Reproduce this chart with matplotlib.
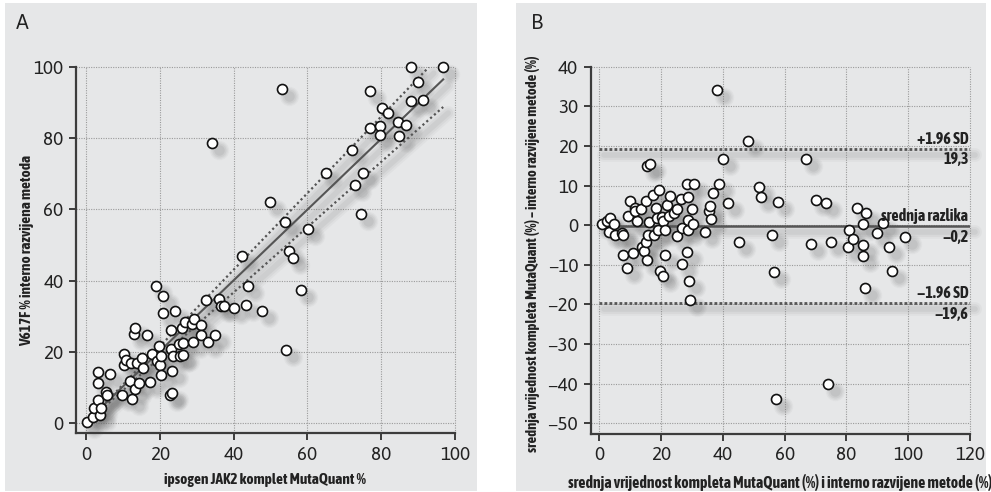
import matplotlib
matplotlib.use("Agg")
import matplotlib.pyplot as plt
from matplotlib.transforms import offset_copy
from matplotlib.patches import Rectangle
import numpy as np

# ---------------- data ----------------
# Panel A: ipsogen JAK2 MutaQuant % (x) vs in-house method % (y)
xa = [0.4, 2.0, 2.2, 3.3, 3.8, 4.0, 3.2, 3.3, 5.4, 5.8, 6.5, 9.9, 10.4, 10.4, 10.9,
      12.1, 11.9, 12.5, 13.2, 14.4, 13.0, 13.4, 13.7, 15.2, 15.5, 16.5, 17.4, 17.9,
      19.0, 19.2, 19.7, 20.0, 20.4, 20.2, 20.9, 20.8, 22.8, 23.4, 23.0, 23.0, 23.2,
      23.5, 24.1, 25.2, 25.6, 25.9, 26.2, 26.2, 26.9, 28.6, 29.0, 29.3, 31.1, 31.3,
      32.5, 33.1, 34.9, 34.1, 36.0, 36.7, 37.4, 40.2, 42.2, 43.3, 43.8, 47.6, 49.8,
      53.0, 53.8, 54.3, 55.0, 56.0, 58.2, 60.1, 65.0, 72.0, 72.8, 74.4, 75.1, 77.1,
      77.1, 79.6, 79.6, 80.3, 81.9, 84.6, 84.7, 86.8, 88.0, 88.0, 90.0, 91.3, 96.8]
ya = [0.3, 1.6, 4.2, 6.5, 2.3, 4.2, 14.3, 11.2, 8.6, 7.9, 13.8, 7.8, 16.2, 19.4, 17.8,
      16.8, 11.7, 6.8, 9.5, 11.2, 25.0, 26.6, 16.8, 18.2, 15.4, 24.6, 11.5, 19.3,
      38.6, 17.3, 21.5, 16.2, 13.4, 18.7, 35.7, 31.0, 7.9, 8.4, 20.8, 26.0, 14.7,
      18.7, 31.6, 22.2, 18.7, 26.6, 22.6, 19.0, 28.5, 27.8, 22.9, 29.3, 27.4, 24.6,
      34.6, 22.9, 24.8, 78.7, 34.8, 32.9, 32.9, 32.4, 47.0, 33.2, 38.6, 31.5, 62.1,
      93.9, 56.5, 20.6, 48.4, 46.4, 37.4, 54.4, 70.1, 76.6, 66.8, 58.6, 70.1, 93.3,
      83.0, 83.5, 80.8, 88.5, 87.1, 84.6, 80.6, 83.8, 100.0, 90.5, 95.8, 90.8, 100.0]

# regression line and band (slope, intercept, x-start, x-end)
reg_main = (0.994, 0.3, 0.2, 96.8)
reg_upper = (1.076, 0.0, 1.5, 92.9)
reg_lower = (0.917, 0.0, 2.0, 96.8)

# Panel B: Bland-Altman
xb = [0.8, 2.4, 3.5, 3.2, 4.7, 5.1, 7.2, 7.6, 7.6, 9.1, 9.4, 9.9, 10.8, 11.5, 12.1,
      11.5, 13.4, 13.7, 14.5, 15.1, 15.0, 15.5, 16.4, 15.3, 15.9, 16.1, 17.3, 17.7,
      18.3, 18.6, 19.1, 19.3, 19.6, 20.2, 20.5, 20.7, 21.3, 21.3, 21.8, 22.5, 22.9,
      24.3, 25.1, 25.1, 26.4, 26.6, 26.6, 28.3, 28.6, 28.6, 28.8, 28.5, 29.0, 29.3,
      29.9, 30.2, 30.6, 34.2, 35.6, 35.8, 36.0, 36.9, 38.0, 38.8, 40.1, 41.7, 45.3,
      48.2, 51.8, 52.3, 55.8, 56.5, 57.1, 57.9, 66.9, 68.4, 70.3, 73.4, 74.1, 75.0,
      80.7, 80.6, 82.2, 83.3, 85.2, 85.4, 85.4, 86.2, 86.0, 90.0, 91.9, 93.7, 94.8, 99.1]
yb = [0.2, 1.0, 1.7, -1.8, 0.2, -2.6, -1.9, -2.6, -7.4, -10.8, 2.4, 6.1, -7.0, 4.4, 1.0,
      3.5, 4.0, -5.5, -6.6, -4.3, 6.1, 14.9, 15.5, -8.7, -2.4, 0.8, 7.5, -2.4,
      4.4, 1.8, -1.1, 9.0, -11.6, 2.1, -12.7, 1.0, -7.6, -1.3, 5.0, 2.3, 7.3,
      3.1, 4.1, -2.8, 6.5, -0.7, -9.7, 10.4, 7.1, -1.3, 1.2, -6.7, -14.1, -19.0,
      4.1, 0.3, 10.3, -1.8, 3.5, 4.8, 1.6, 8.2, 34.0, 10.3, 16.6, 5.6, -4.3,
      21.2, 9.7, 7.1, -2.4, -11.8, -43.9, 5.9, 16.6, -4.7, 6.3, 5.5, -40.2, -4.2,
      -1.1, -5.5, -3.6, 4.4, 0.2, -4.9, -7.8, 3.1, -15.8, -1.9, 0.6, -5.5, -11.6, -2.9]

upper_loa = 19.3
mean_diff = -0.2
lower_loa = -19.6
loa_labels = ["+1.96 SD", "19,3", "srednja razlika", "\u22120,2", "\u22121.96 SD", "\u221219,6"]

xticks_a = [0, 20, 40, 60, 80, 100]
yticks_a = [0, 20, 40, 60, 80, 100]
xticks_b = [0, 20, 40, 60, 80, 100, 120]
yticks_b = [-50, -40, -30, -20, -10, 0, 10, 20, 30, 40]

# ---------------- style ----------------
BG = "#e6e7e8"
DARK = "#3c3c3c"
GRID = "#9a9a9a"
TICKFONT = ["Asap", "DejaVu Sans"]
LABFONT = ["Asap Condensed", "Archivo Narrow", "DejaVu Sans"]

fig = plt.figure(figsize=(9.91, 4.92), dpi=100)
W, H = 991, 492
fig.patches.append(Rectangle((5 / W, 1 / H), 472 / W, 488 / H, transform=fig.transFigure,
                             facecolor=BG, edgecolor="none", zorder=-5))
fig.patches.append(Rectangle((516 / W, 1 / H), 470 / W, 488 / H, transform=fig.transFigure,
                             facecolor=BG, edgecolor="none", zorder=-5))

axA = fig.add_axes([76 / W, 59 / H, 379 / W, 366 / H])
axB = fig.add_axes([590.7 / W, 58 / H, 379.3 / W, 367.3 / H])


def style_axes(ax, xticks, yticks, xlim, ylim):
    ax.set_facecolor("none")
    ax.set_xlim(*xlim)
    ax.set_ylim(*ylim)
    for s in ["top", "right"]:
        ax.spines[s].set_visible(False)
    for s in ["left", "bottom"]:
        ax.spines[s].set_color(DARK)
        ax.spines[s].set_linewidth(1.6)
    ax.set_xticks(xticks)
    ax.set_yticks(yticks)
    ax.set_yticklabels([str(t).replace("-", "\u2212") for t in yticks])
    ax.tick_params(direction="out", length=5, width=1.4, color=DARK, labelcolor="#222222",
                   labelsize=13.5, pad=4)
    for lab in ax.get_xticklabels() + ax.get_yticklabels():
        lab.set_family(TICKFONT)
    for t in xticks:
        ax.axvline(t, color=GRID, lw=0.8, ls=(0, (1, 1.2)), zorder=1, clip_on=False)
    for t in yticks:
        ax.axhline(t, color=GRID, lw=0.8, ls=(0, (1, 1.2)), zorder=1, clip_on=False)


def shadow_points(ax, x, y):
    tr = offset_copy(ax.transData, fig=fig, x=7, y=-7, units="dots")
    for ms, a in [(14, 0.05), (12, 0.07), (10, 0.09), (7.5, 0.11)]:
        ax.plot(x, y, "o", ms=ms, color="#707070", alpha=a, mec="none",
                transform=tr, zorder=2, clip_on=False)


def shadow_line(ax, x, y):
    tr = offset_copy(ax.transData, fig=fig, x=5, y=-6, units="dots")
    for lw, a in [(10, 0.05), (7, 0.07), (4, 0.09)]:
        ax.plot(x, y, color="#707070", lw=lw, alpha=a, transform=tr, zorder=2,
                solid_capstyle="round", clip_on=False)


# ---------------- Panel A ----------------
style_axes(axA, xticks_a, yticks_a, (-2.7, 100), (-2.8, 100))
shadow_points(axA, xa, ya)
for (m, c, x0, x1), ls in [(reg_main, "-"), (reg_upper, (0, (1, 1.3))), (reg_lower, (0, (1, 1.3)))]:
    xs = np.array([x0, x1])
    ys = m * xs + c
    shadow_line(axA, xs, ys)
    axA.plot(xs, ys, color="#555555", lw=1.5 if ls == "-" else 1.6, ls=ls, zorder=3)
axA.plot(xa, ya, "o", ms=7.2, mfc="white", mec="#111111", mew=1.2, zorder=5, clip_on=False)
axA.set_xlabel("ipsogen JAK2 komplet MutaQuant %", family=LABFONT, fontweight="bold",
               fontsize=11, color="#222222", labelpad=7)
axA.set_ylabel("V617F % interno razvijena metoda", family=LABFONT, fontweight="bold",
               fontsize=11, color="#222222")
axA.yaxis.set_label_coords(-0.111, 0.5)
fig.text(16 / W, 1 - 23 / H, "A", fontsize=15, family=TICKFONT, va="center", ha="left",
         color="#222222")

# ---------------- Panel B ----------------
style_axes(axB, xticks_b, yticks_b, (-2.8, 120), (-52.7, 40))
shadow_points(axB, xb, yb)
xr = np.array([0, 120])
for val, ls, lw in [(upper_loa, (0, (1, 0.8)), 2.0), (mean_diff, "-", 1.8), (lower_loa, (0, (1, 0.8)), 2.0)]:
    shadow_line(axB, xr, [val, val])
    axB.plot(xr, [val, val], color="#555555", lw=lw, ls=ls, zorder=3)
axB.plot(xb, yb, "o", ms=7.2, mfc="white", mec="#111111", mew=1.2, zorder=5, clip_on=False)

lab_kw = dict(family=LABFONT, fontweight="bold", fontsize=11.5, color="#222222", ha="right", zorder=6)
for val, top, bot in [(upper_loa, loa_labels[0], loa_labels[1]),
                      (mean_diff, loa_labels[2], loa_labels[3]),
                      (lower_loa, loa_labels[4], loa_labels[5])]:
    axB.annotate(top, (119.5, val), xytext=(0, 1.5), textcoords="offset points", va="bottom", **lab_kw)
    axB.annotate(bot, (119.5, val), xytext=(0, -2), textcoords="offset points", va="top", **lab_kw)

axB.set_xlabel("srednja vrijednost kompleta MutaQuant (%) i interno razvijene metode (%)",
               family=LABFONT, fontweight="bold", fontsize=11.3, color="#222222", labelpad=7)
axB.set_ylabel("srednja vrijednost kompleta MutaQuant (%) \u2013 interno razvijene metode (%)",
               family=LABFONT, fontweight="bold", fontsize=10.5, color="#222222")
axB.yaxis.set_label_coords(-0.133, 0.49)
fig.text(531 / W, 1 - 23 / H, "B", fontsize=15, family=TICKFONT, va="center", ha="left",
         color="#222222")

fig.savefig("out.png", dpi=100)
